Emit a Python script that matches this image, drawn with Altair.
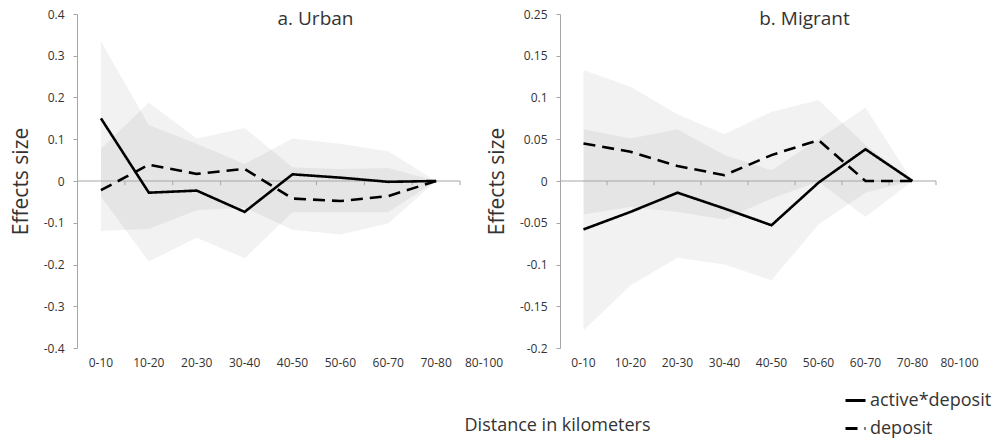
import altair as alt
import pandas as pd

cats = ["0-10", "10-20", "20-30", "30-40", "40-50", "50-60", "60-70", "70-80", "80-100"]
series_names = ["active*deposit", "deposit"]

# a. Urban
urban_active = [0.15, -0.028, -0.023, -0.074, 0.016, 0.008, -0.002, 0.0]
urban_deposit = [-0.022, 0.039, 0.017, 0.029, -0.042, -0.048, -0.036, 0.0]
urban_active_hi = [0.335, 0.134, 0.089, 0.041, 0.102, 0.089, 0.071, 0.0]
urban_active_lo = [-0.038, -0.193, -0.136, -0.185, -0.075, -0.075, -0.075, 0.0]
urban_deposit_hi = [0.077, 0.188, 0.102, 0.127, 0.033, 0.029, 0.031, 0.0]
urban_deposit_lo = [-0.12, -0.115, -0.07, -0.064, -0.117, -0.128, -0.102, 0.0]

# b. Migrant
migrant_active = [-0.058, -0.037, -0.014, -0.033, -0.053, -0.002, 0.038, 0.0]
migrant_deposit = [0.045, 0.035, 0.018, 0.007, 0.031, 0.049, 0.0, 0.0]
migrant_active_hi = [0.062, 0.051, 0.062, 0.031, 0.013, 0.05, 0.088, 0.0]
migrant_active_lo = [-0.179, -0.125, -0.092, -0.1, -0.119, -0.052, -0.014, 0.0]
migrant_deposit_hi = [0.133, 0.113, 0.08, 0.056, 0.083, 0.097, 0.043, 0.0]
migrant_deposit_lo = [-0.04, -0.031, -0.037, -0.046, -0.021, -0.001, -0.043, 0.0]

urban_yticks = [-0.4, -0.3, -0.2, -0.1, 0, 0.1, 0.2, 0.3, 0.4]
migrant_yticks = [-0.2, -0.15, -0.1, -0.05, 0, 0.05, 0.1, 0.15, 0.2]

x_title = "Distance in kilometers"

FONT = "Open Sans"
TXT = "#333333"
AXC = "#a6a6a6"


def long_df(active, dep, a_lo, a_hi, d_lo, d_hi):
    rows = []
    for i, c in enumerate(cats[: len(active)]):
        rows.append({"cat": c, "series": series_names[0], "value": active[i], "lo": a_lo[i], "hi": a_hi[i]})
        rows.append({"cat": c, "series": series_names[1], "value": dep[i], "lo": d_lo[i], "hi": d_hi[i]})
    return pd.DataFrame(rows)


def panel(title, title_dx, df, yticks, ydom, label_expr, tick_depth, width, with_xtitle):
    xscale = alt.Scale(domain=cats, paddingInner=0, paddingOuter=0)
    axis_kw = dict(labelAngle=0, domain=False, ticks=False, labelPadding=9,
                   labelFontSize=12, labelFont=FONT, labelColor=TXT)
    if with_xtitle:
        xaxis = alt.Axis(title=x_title, titleFontSize=18, titleFont=FONT, titleFontWeight="normal",
                         titleColor=TXT, titleX=480, titleY=77, titleAlign="center",
                         titleBaseline="middle", **axis_kw)
    else:
        xaxis = alt.Axis(title=None, **axis_kw)
    yscale = alt.Scale(domain=ydom, nice=False, zero=False)
    yaxis = alt.Axis(values=yticks, labelExpr=label_expr, title="Effects size", titleFontSize=21,
                     titleFont=FONT, titleFontWeight="normal", titleColor=TXT, titlePadding=12,
                     labelFontSize=12, labelFont=FONT, labelColor=TXT, labelPadding=9,
                     tickSize=4, tickColor=AXC, domainColor=AXC, grid=False)
    x = alt.X("cat:O", scale=xscale, axis=xaxis, sort=cats)
    x0 = alt.X("cat:O", scale=xscale, axis=xaxis, sort=cats, bandPosition=0)

    area = alt.Chart(df).mark_area(fill="black", fillOpacity=0.05, strokeWidth=0).encode(
        x=x,
        y=alt.Y("lo:Q", scale=yscale, axis=yaxis),
        y2="hi:Q",
        detail="series:N",
    )
    zero_df = pd.DataFrame({"cat": [cats[0], cats[-1]]})
    zero = alt.Chart(zero_df).mark_line(color=AXC, strokeWidth=1).encode(
        x=x0, y=alt.datum(0, scale=yscale, axis=yaxis)
    )
    tick_df = pd.DataFrame({"cat": cats[1:]})
    ticks = alt.Chart(tick_df).mark_rule(color=AXC, strokeWidth=1).encode(
        x=x0, y=alt.datum(0), y2=alt.datum(-tick_depth)
    )
    line = alt.Chart(df).mark_line(color="black", strokeWidth=2.6).encode(
        x=x,
        y=alt.Y("value:Q", scale=yscale, axis=yaxis),
        strokeDash=alt.StrokeDash(
            "series:N",
            scale=alt.Scale(domain=series_names, range=[[1, 0], [12, 7]]),
            legend=alt.Legend(title=None, orient="none", legendX=767, legendY=375,
                              symbolType="stroke", symbolStrokeWidth=3, symbolSize=400,
                              symbolStrokeColor="black", labelFontSize=18, labelFont=FONT,
                              labelColor=TXT, labelOffset=3, rowPadding=7),
        ),
    )
    return alt.layer(area, zero, ticks, line).properties(
        width=width, height=334,
        title=alt.Title(title, fontSize=19, font=FONT, fontWeight="normal", color=TXT,
                        anchor="middle", dx=title_dx, offset=-21),
    )


left = panel("a. Urban", 23,
             long_df(urban_active, urban_deposit, urban_active_lo, urban_active_hi, urban_deposit_lo, urban_deposit_hi),
             urban_yticks, [-0.4, 0.4], "toString(datum.value)", 0.01, 431, True)
right = panel("b. Migrant", 33,
              long_df(migrant_active, migrant_deposit, migrant_active_lo, migrant_active_hi, migrant_deposit_lo, migrant_deposit_hi),
              migrant_yticks, [-0.2, 0.2], "datum.value == 0.2 ? '0.25' : toString(datum.value)", 0.005, 423, False)

chart = alt.hconcat(left, right, spacing=52, bounds="flush").resolve_scale(
    strokeDash="shared"
).properties(
    padding={"left": 10, "top": 8, "right": 5, "bottom": 5},
).configure_view(strokeWidth=0)

chart.save("out.html", embed_options={"renderer": "svg", "actions": False})
